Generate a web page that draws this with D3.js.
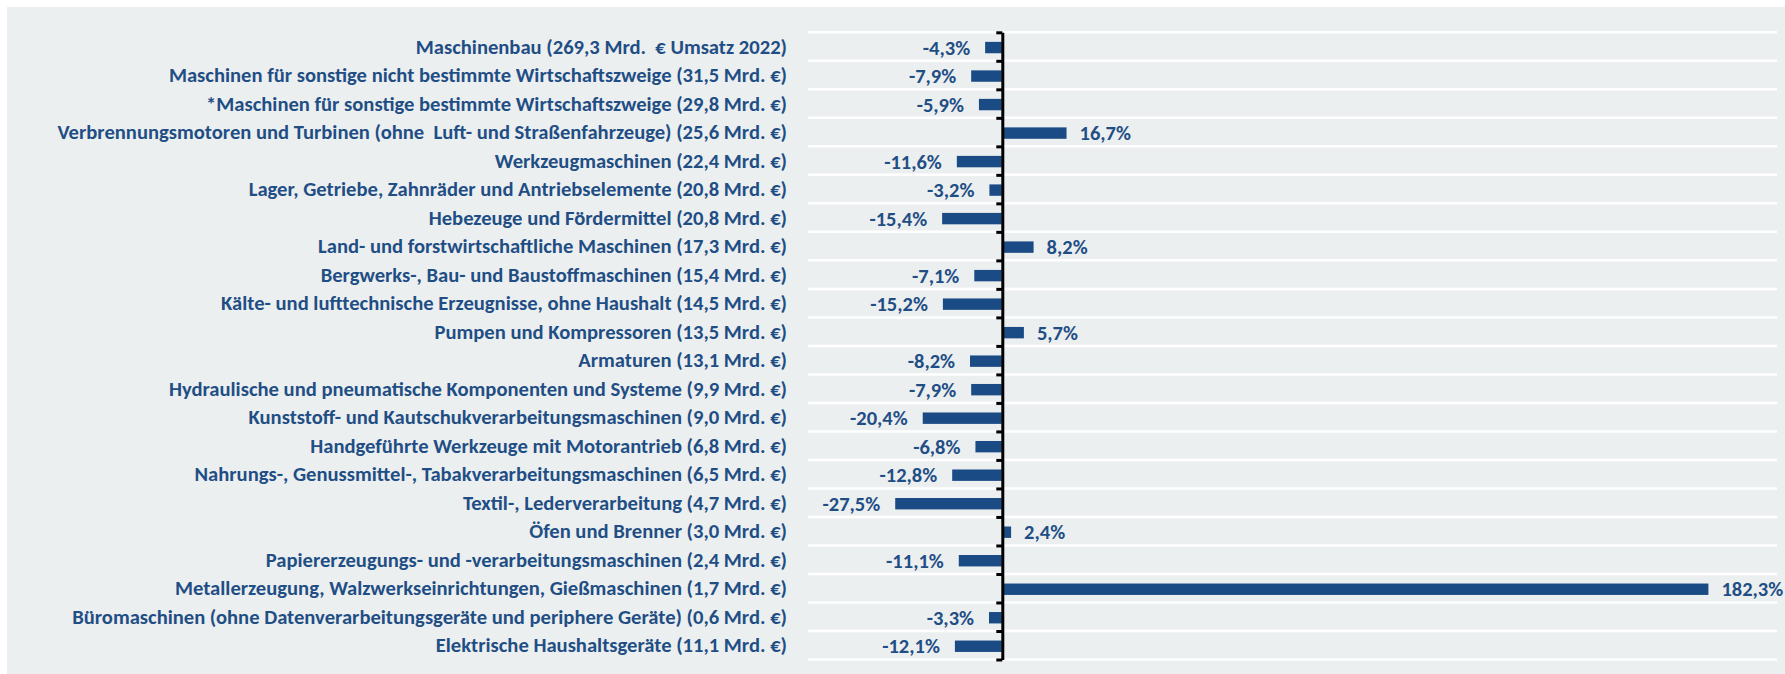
<!DOCTYPE html>
<html>
<head>
<meta charset="utf-8">
<script src="https://cdn.jsdelivr.net/npm/d3@7"></script>
<style>
  body { margin: 0; background: #fff; }
  text { font-family: Carlito, Calibri, Lato, "Open Sans", sans-serif; font-weight: bold; white-space: pre; }
</style>
</head>
<body>
<div id="chart"></div>
<script>
// categories (top to bottom) and change in % vs. previous year
var categories = [
  "Maschinenbau (269,3 Mrd.  € Umsatz 2022)",
  "Maschinen für sonstige nicht bestimmte Wirtschaftszweige (31,5 Mrd. €)",
  "*Maschinen für sonstige bestimmte Wirtschaftszweige (29,8 Mrd. €)",
  "Verbrennungsmotoren und Turbinen (ohne  Luft- und Straßenfahrzeuge) (25,6 Mrd. €)",
  "Werkzeugmaschinen (22,4 Mrd. €)",
  "Lager, Getriebe, Zahnräder und Antriebselemente (20,8 Mrd. €)",
  "Hebezeuge und Fördermittel (20,8 Mrd. €)",
  "Land- und forstwirtschaftliche Maschinen (17,3 Mrd. €)",
  "Bergwerks-, Bau- und Baustoffmaschinen (15,4 Mrd. €)",
  "Kälte- und lufttechnische Erzeugnisse, ohne Haushalt (14,5 Mrd. €)",
  "Pumpen und Kompressoren (13,5 Mrd. €)",
  "Armaturen (13,1 Mrd. €)",
  "Hydraulische und pneumatische Komponenten und Systeme (9,9 Mrd. €)",
  "Kunststoff- und Kautschukverarbeitungsmaschinen (9,0 Mrd. €)",
  "Handgeführte Werkzeuge mit Motorantrieb (6,8 Mrd. €)",
  "Nahrungs-, Genussmittel-, Tabakverarbeitungsmaschinen (6,5 Mrd. €)",
  "Textil-, Lederverarbeitung (4,7 Mrd. €)",
  "Öfen und Brenner (3,0 Mrd. €)",
  "Papiererzeugungs- und -verarbeitungsmaschinen (2,4 Mrd. €)",
  "Metallerzeugung, Walzwerkseinrichtungen, Gießmaschinen (1,7 Mrd. €)",
  "Büromaschinen (ohne Datenverarbeitungsgeräte und periphere Geräte) (0,6 Mrd. €)",
  "Elektrische Haushaltsgeräte (11,1 Mrd. €)"
];
var changes = [-4.3, -7.9, -5.9, 16.7, -11.6, -3.2, -15.4, 8.2, -7.1, -15.2, 5.7, -8.2,
               -7.9, -20.4, -6.8, -12.8, -27.5, 2.4, -11.1, 182.3, -3.3, -12.1];
var xDomain = [-50, 200];

var width = 1785, height = 674;
var blue = "#1b4b85", textBlue = "#1f4e85";

var de = d3.formatLocale({decimal: ",", thousands: ".", grouping: [3], currency: ["", " €"], minus: "-"});
var fmt = de.format(".1f");

var data = categories.map(function(c, i){ return {name: c, value: changes[i]}; });

var svg = d3.select("#chart").append("svg")
  .attr("width", width)
  .attr("height", height);

svg.append("rect")
  .attr("x", 7).attr("y", 7)
  .attr("width", width - 7).attr("height", height - 7)
  .style("fill", "#ecefF0");

var xscale = d3.scaleLinear().domain(xDomain).range([808, 1777]);
var yscale = d3.scaleBand().domain(categories).range([32.3, 659.5])
  .paddingInner(0.6).paddingOuter(0.3);
var step = yscale.step();

// white gridlines between the categories
var bounds = d3.range(categories.length + 1);
svg.append("g").selectAll("line")
  .data(bounds).enter()
  .append("line")
  .attr("x1", xscale(xDomain[0]))
  .attr("x2", xscale(xDomain[1]))
  .attr("y1", function(i){ return yscale.range()[0] + i * step; })
  .attr("y2", function(i){ return yscale.range()[0] + i * step; })
  .style("stroke", "#fff")
  .style("stroke-width", 2.5);

// bars
svg.append("g").selectAll("rect")
  .data(data).enter()
  .append("rect")
  .attr("x", function(d){ return d.value < 0 ? xscale(d.value) : xscale(0) + 1.5; })
  .attr("y", function(d){ return yscale(d.name) + 1; })
  .attr("width", function(d){ return Math.abs(xscale(d.value) - xscale(0)) - (d.value < 0 ? 0 : 1.5); })
  .attr("height", yscale.bandwidth())
  .style("fill", blue);

// axis at zero with ticks on the category boundaries
var tickscale = d3.scaleLinear().domain([0, categories.length])
  .range([yscale.range()[0], yscale.range()[0] + categories.length * step]);
var yAxis = d3.axisLeft(tickscale)
  .tickValues(bounds)
  .tickFormat("")
  .tickSizeInner(6)
  .tickSizeOuter(0);

var axisG = svg.append("g")
  .attr("transform", "translate(" + (xscale(0) + 0.5) + ",0)")
  .call(yAxis);
axisG.select(".domain").style("stroke", "#000").style("stroke-width", 3);
axisG.selectAll(".tick line").style("stroke", "#000").style("stroke-width", 3);

// category labels
svg.append("g").selectAll("text")
  .data(data).enter()
  .append("text")
  .attr("x", 787)
  .attr("y", function(d){ return yscale(d.name) + yscale.bandwidth() / 2; })
  .attr("dy", "0.35em")
  .style("text-anchor", "end")
  .style("font-size", "20.6px")
  .style("fill", textBlue)
  .text(function(d){ return d.name; });

// value labels
svg.append("g").selectAll("text")
  .data(data).enter()
  .append("text")
  .attr("x", function(d){ return d.value < 0 ? xscale(d.value) - 15 : xscale(d.value) + 13; })
  .attr("y", function(d){ return yscale(d.name) + yscale.bandwidth() / 2 + 1; })
  .attr("dy", "0.35em")
  .style("text-anchor", function(d){ return d.value < 0 ? "end" : "start"; })
  .style("font-size", "20.5px")
  .style("fill", textBlue)
  .text(function(d){ return fmt(d.value) + "%"; });
</script>
</body>
</html>
